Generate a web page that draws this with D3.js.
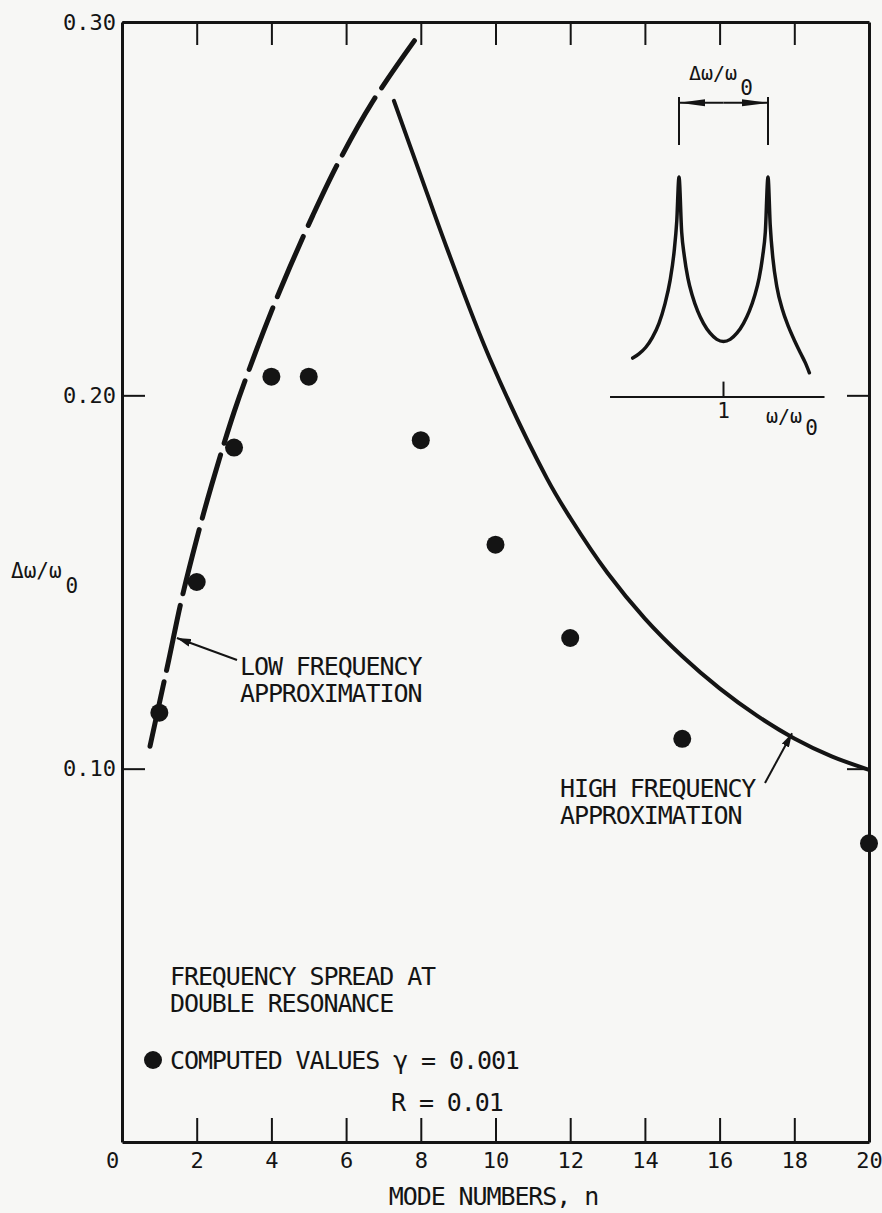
<!DOCTYPE html>
<html>
<head>
<meta charset="utf-8">
<script src="https://d3js.org/d3.v7.min.js"></script>
<style>
  body { margin: 0; background: #f7f7f5; }
  svg text { font-family: "DejaVu Sans Mono", monospace; fill: #141414; }
</style>
</head>
<body>
<script>
// computed values (mode number n, spread dw/w0)
var modeN   = [1, 2, 3, 4, 5, 8, 10, 12, 15, 20],
    spread  = [0.115, 0.150, 0.186, 0.205, 0.205, 0.188, 0.160, 0.135, 0.108, 0.080];

// low frequency approximation (dashed)
var lowN    = [0.75, 1.0, 1.25, 1.6, 2.0, 2.4, 3.0, 3.5, 4.0, 4.5, 5.1, 5.8, 6.7, 7.83],
    lowV    = [0.106, 0.1175, 0.129, 0.1455, 0.1615, 0.176, 0.1955, 0.2095, 0.2225, 0.2345, 0.248, 0.2625, 0.2785, 0.295];

// high frequency approximation (solid)
var highN   = [7.28, 8.0, 8.7, 9.85, 11.38, 12, 13, 14, 15, 16, 17, 18, 19, 20],
    highV   = [0.2789, 0.2588, 0.2394, 0.2098, 0.1777, 0.1672, 0.1524, 0.1402, 0.1301, 0.1215, 0.1142, 0.1081, 0.1033, 0.0997];

// inset: double resonance response, amplitude vs w/w0
var insetW  = [0.796, 0.81, 0.825, 0.84, 0.855, 0.868, 0.88, 0.889, 0.895, 0.9,
               0.906, 0.912, 0.92, 0.93, 0.942, 0.955, 0.97, 0.985, 1.0,
               1.015, 1.03, 1.045, 1.058, 1.07, 1.08, 1.088, 1.094, 1.1,
               1.105, 1.111, 1.12, 1.132, 1.146, 1.16, 1.173, 1.184, 1.193],
    insetA  = [0.177, 0.196, 0.225, 0.270, 0.335, 0.42, 0.53, 0.66, 0.80, 1.0,
               0.75, 0.64, 0.54, 0.46, 0.39, 0.335, 0.29, 0.262, 0.252,
               0.262, 0.29, 0.335, 0.39, 0.46, 0.54, 0.64, 0.75, 1.0,
               0.78, 0.63, 0.50, 0.40, 0.32, 0.255, 0.20, 0.155, 0.11];

var xTicks  = [0, 2, 4, 6, 8, 10, 12, 14, 16, 18, 20],
    yTicks  = [0.10, 0.20, 0.30];

var ink = "#141414";

var svg = d3.select("body").append("svg").attr("width", 882).attr("height", 1213);
svg.append("rect").attr("width", 882).attr("height", 1213).attr("fill", "#f7f7f5");

var defs = svg.append("defs");
defs.append("marker").attr("id", "ah")
    .attr("viewBox", "0 0 14 8").attr("refX", 14).attr("refY", 4)
    .attr("markerWidth", 14).attr("markerHeight", 8)
    .attr("markerUnits", "userSpaceOnUse").attr("orient", "auto")
  .append("path").attr("d", "M0,0L14,4L0,8Z").attr("fill", ink);
defs.append("marker").attr("id", "ah2")
    .attr("viewBox", "0 0 26 9").attr("refX", 26).attr("refY", 4.5)
    .attr("markerWidth", 26).attr("markerHeight", 9)
    .attr("markerUnits", "userSpaceOnUse").attr("orient", "auto")
  .append("path").attr("d", "M0,1L26,4.5L0,8Z").attr("fill", ink);

var x = d3.scaleLinear().domain([0, 20]).range([122, 869]),
    y = d3.scaleLinear().domain([0, 0.3]).range([1142, 22]);

function styleAxis(g) {
  g.attr("font-family", null).attr("font-size", null);
  g.select(".domain").attr("stroke", ink).attr("stroke-width", 3);
  g.selectAll(".tick line").attr("stroke", ink).attr("stroke-width", 2);
  g.selectAll(".tick text").attr("fill", ink).style("font-size", "22px");
}

// frame made of four axes, ticks pointing inward
var gBottom = svg.append("g").attr("transform", "translate(0," + y(0) + ")")
  .call(d3.axisBottom(x).tickValues(xTicks).tickSizeInner(-24).tickSizeOuter(0)
        .tickPadding(10).tickFormat(d3.format("d")))
  .call(styleAxis);
gBottom.selectAll(".tick text").filter(function(d) { return d === 0; }).attr("dx", -10);

svg.append("g").attr("transform", "translate(" + x(0) + ",0)")
  .call(d3.axisLeft(y).tickValues(yTicks).tickSizeInner(-23).tickSizeOuter(0)
        .tickPadding(6).tickFormat(d3.format(".2f")))
  .call(styleAxis);

svg.append("g").attr("transform", "translate(0," + y(0.3) + ")")
  .call(d3.axisTop(x).tickValues(d3.range(2, 20, 2)).tickSizeInner(-23).tickSizeOuter(0).tickFormat(""))
  .call(styleAxis);

svg.append("g").attr("transform", "translate(" + x(20) + ",0)")
  .call(d3.axisRight(y).tickValues([0.10, 0.20]).tickSizeInner(-22).tickSizeOuter(0).tickFormat(""))
  .call(styleAxis);

// curves
var line = d3.line().x(function(d) { return x(d[0]); }).y(function(d) { return y(d[1]); })
  .curve(d3.curveCatmullRom.alpha(0.5));

svg.append("path")
  .datum(d3.zip(lowN, lowV))
  .attr("d", line)
  .attr("fill", "none").attr("stroke", ink).attr("stroke-width", 5)
  .attr("stroke-linecap", "round").attr("stroke-dasharray", "66 12");

svg.append("path")
  .datum(d3.zip(highN, highV))
  .attr("d", line)
  .attr("fill", "none").attr("stroke", ink).attr("stroke-width", 4)
  .attr("stroke-linecap", "round");

// computed points
svg.append("g").selectAll("circle")
  .data(d3.zip(modeN, spread))
  .join("circle")
  .attr("cx", function(d) { return x(d[0]); })
  .attr("cy", function(d) { return y(d[1]); })
  .attr("r", 9).attr("fill", ink);

// annotations
var ann = svg.append("g").style("font-size", "25px").style("letter-spacing", "-1.1px");

svg.append("line")
  .attr("x1", 237).attr("y1", 660).attr("x2", x(1.47)).attr("y2", y(0.135))
  .attr("stroke", ink).attr("stroke-width", 2).attr("marker-end", "url(#ah)");
ann.append("text").attr("x", 240).attr("y", 675).text("LOW FREQUENCY");
ann.append("text").attr("x", 240).attr("y", 702).text("APPROXIMATION");

svg.append("line")
  .attr("x1", 765).attr("y1", 783).attr("x2", x(17.94)).attr("y2", y(0.1095))
  .attr("stroke", ink).attr("stroke-width", 2).attr("marker-end", "url(#ah)");
ann.append("text").attr("x", 560).attr("y", 797).text("HIGH FREQUENCY");
ann.append("text").attr("x", 560).attr("y", 824).text("APPROXIMATION");

// legend block
ann.append("text").attr("x", 170).attr("y", 985).text("FREQUENCY SPREAD AT");
ann.append("text").attr("x", 170).attr("y", 1012).text("DOUBLE RESONANCE");
svg.append("circle").attr("cx", 153).attr("cy", 1060).attr("r", 9).attr("fill", ink);
ann.append("text").attr("x", 170).attr("y", 1069).text("COMPUTED VALUES \u03b3 = 0.001");
ann.append("text").attr("x", 391).attr("y", 1111).text("R = 0.01");

// axis titles
ann.append("text").attr("x", x(10) - 2).attr("y", 1205).attr("text-anchor", "middle").text("MODE NUMBERS, n");

var yt = svg.append("text").attr("x", 11).attr("y", 578).style("font-size", "21px");
yt.append("tspan").text("\u0394\u03c9/\u03c9");
yt.append("tspan").attr("dx", 4).attr("dy", 15).text("0");

// inset sketch
var ix = d3.scaleLinear().domain([0.9, 1.1]).range([679, 768]),
    iy = d3.scaleLinear().domain([0, 1]).range([397, 177]);

svg.append("line")
  .attr("x1", ix(0.745)).attr("x2", ix(1.227)).attr("y1", iy(0)).attr("y2", iy(0))
  .attr("stroke", ink).attr("stroke-width", 2);
svg.append("line")
  .attr("x1", ix(1)).attr("x2", ix(1)).attr("y1", iy(0)).attr("y2", iy(0.07))
  .attr("stroke", ink).attr("stroke-width", 2);

var iline = d3.line().x(function(d) { return ix(d[0]); }).y(function(d) { return iy(d[1]); })
  .curve(d3.curveMonotoneX);
svg.append("path")
  .datum(d3.zip(insetW, insetA))
  .attr("d", iline)
  .attr("fill", "none").attr("stroke", ink).attr("stroke-width", 3.5)
  .attr("stroke-linecap", "round");

// bracket showing the spread between the two peaks
[0.9, 1.1].forEach(function(w) {
  svg.append("line")
    .attr("x1", ix(w)).attr("x2", ix(w)).attr("y1", iy(1.364)).attr("y2", iy(1.145))
    .attr("stroke", ink).attr("stroke-width", 2);
  svg.append("line")
    .attr("x1", ix(1)).attr("x2", ix(w)).attr("y1", iy(1.337)).attr("y2", iy(1.337))
    .attr("stroke", ink).attr("stroke-width", 2).attr("marker-end", "url(#ah2)");
});

var it = svg.append("text").attr("x", 689).attr("y", 80).style("font-size", "20px");
it.append("tspan").text("\u0394\u03c9/\u03c9");
it.append("tspan").attr("dx", 3).attr("dy", 15).style("font-size", "21px").text("0");

svg.append("text").attr("x", ix(1)).attr("y", 418).attr("text-anchor", "middle")
  .style("font-size", "21px").text("1");

var ib = svg.append("text").attr("x", 766).attr("y", 423).style("font-size", "20px");
ib.append("tspan").text("\u03c9/\u03c9");
ib.append("tspan").attr("dx", 3).attr("dy", 12).style("font-size", "21px").text("0");
</script>
</body>
</html>
